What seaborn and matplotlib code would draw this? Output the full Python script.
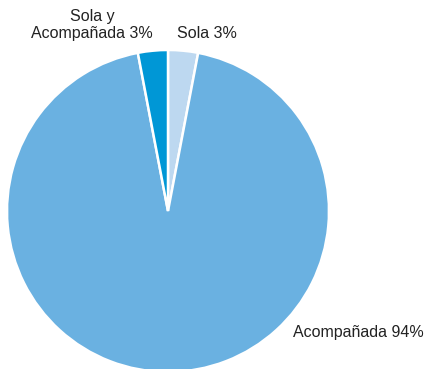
import matplotlib
matplotlib.use("Agg")
import matplotlib.pyplot as plt
import seaborn as sns

sns.set_theme(style="white")
plt.rcParams["font.family"] = ["Liberation Sans", "DejaVu Sans"]

categories = ["Sola", "Acompañada", "Sola y\nAcompañada"]
shares = [3, 94, 3]
colors = ["#BDD8F0", "#6AB1E1", "#0097D6"]

fig = plt.figure(figsize=(4.26, 3.69), dpi=100)
ax = fig.add_axes([7 / 426, -3 / 369, 322 / 426, 322 / 369])
ax.pie(
    shares,
    colors=colors,
    startangle=90,
    counterclock=False,
    radius=1.0,
    wedgeprops=dict(edgecolor="white", linewidth=1.8),
)
ax.set_xlim(-1, 1)
ax.set_ylim(-1, 1)
ax.set_aspect("equal")
ax.axis("off")

labels = [f"{c} {v}%" for c, v in zip(categories, shares)]
text_kw = dict(fontsize=11.5, color="#222222")
fig.text(207 / 426, 1 - 34 / 369, labels[0], ha="center", va="center", **text_kw)
fig.text(293 / 426, 1 - 332 / 369, labels[1], ha="left", va="center", **text_kw)
fig.text(92 / 426, 1 - 25 / 369, labels[2], ha="center", va="center",
         linespacing=1.15, **text_kw)

fig.savefig("out.png", dpi=100)
